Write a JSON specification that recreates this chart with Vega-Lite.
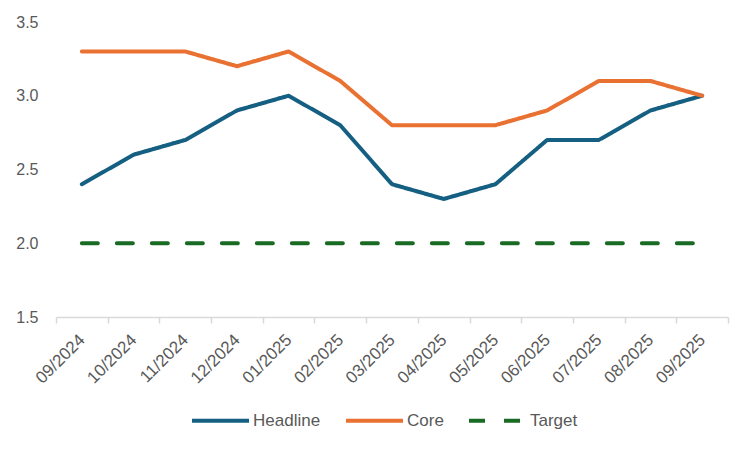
{
  "$schema": "https://vega.github.io/schema/vega-lite/v6.json",
  "width": 672,
  "height": 295,
  "autosize": {"type": "none"},
  "padding": {"left": 56, "top": 22, "right": 24, "bottom": 135},
  "background": "white",
  "config": {
    "view": {"stroke": null},
    "font": "Liberation Sans",
    "legend": {
      "orient": "none",
      "legendX": 134,
      "legendY": 368,
      "direction": "horizontal",
      "title": null,
      "symbolType": "stroke",
      "symbolSize": 3249,
      "symbolStrokeWidth": 4,
      "labelFontSize": 17,
      "labelColor": "#595959",
      "labelOffset": 2,
      "columnPadding": 17
    }
  },
  "data": {
    "values": [
      {"month": "09/2024", "series": "Headline", "value": 2.4},
      {"month": "10/2024", "series": "Headline", "value": 2.6},
      {"month": "11/2024", "series": "Headline", "value": 2.7},
      {"month": "12/2024", "series": "Headline", "value": 2.9},
      {"month": "01/2025", "series": "Headline", "value": 3.0},
      {"month": "02/2025", "series": "Headline", "value": 2.8},
      {"month": "03/2025", "series": "Headline", "value": 2.4},
      {"month": "04/2025", "series": "Headline", "value": 2.3},
      {"month": "05/2025", "series": "Headline", "value": 2.4},
      {"month": "06/2025", "series": "Headline", "value": 2.7},
      {"month": "07/2025", "series": "Headline", "value": 2.7},
      {"month": "08/2025", "series": "Headline", "value": 2.9},
      {"month": "09/2025", "series": "Headline", "value": 3.0},
      {"month": "09/2024", "series": "Core", "value": 3.3},
      {"month": "10/2024", "series": "Core", "value": 3.3},
      {"month": "11/2024", "series": "Core", "value": 3.3},
      {"month": "12/2024", "series": "Core", "value": 3.2},
      {"month": "01/2025", "series": "Core", "value": 3.3},
      {"month": "02/2025", "series": "Core", "value": 3.1},
      {"month": "03/2025", "series": "Core", "value": 2.8},
      {"month": "04/2025", "series": "Core", "value": 2.8},
      {"month": "05/2025", "series": "Core", "value": 2.8},
      {"month": "06/2025", "series": "Core", "value": 2.9},
      {"month": "07/2025", "series": "Core", "value": 3.1},
      {"month": "08/2025", "series": "Core", "value": 3.1},
      {"month": "09/2025", "series": "Core", "value": 3.0},
      {"month": "09/2024", "series": "Target", "value": 2.0},
      {"month": "10/2024", "series": "Target", "value": 2.0},
      {"month": "11/2024", "series": "Target", "value": 2.0},
      {"month": "12/2024", "series": "Target", "value": 2.0},
      {"month": "01/2025", "series": "Target", "value": 2.0},
      {"month": "02/2025", "series": "Target", "value": 2.0},
      {"month": "03/2025", "series": "Target", "value": 2.0},
      {"month": "04/2025", "series": "Target", "value": 2.0},
      {"month": "05/2025", "series": "Target", "value": 2.0},
      {"month": "06/2025", "series": "Target", "value": 2.0},
      {"month": "07/2025", "series": "Target", "value": 2.0},
      {"month": "08/2025", "series": "Target", "value": 2.0},
      {"month": "09/2025", "series": "Target", "value": 2.0}
    ]
  },
  "mark": {"type": "line", "strokeWidth": 4, "strokeCap": "round", "strokeJoin": "round"},
  "encoding": {
    "x": {
      "field": "month",
      "type": "ordinal",
      "sort": null,
      "bandPosition": 0.5,
      "scale": {"type": "band", "paddingInner": 0, "paddingOuter": 0},
      "axis": {
        "title": null,
        "tickBand": "extent",
        "labelAngle": -45,
        "labelAlign": "right",
        "labelBaseline": "middle",
        "labelPadding": 14,
        "domainColor": "#D9D9D9",
        "domainWidth": 1.5,
        "tickColor": "#D9D9D9",
        "tickWidth": 1.5,
        "tickSize": 6,
        "labelColor": "#595959",
        "labelFontSize": 17,
        "grid": false
      }
    },
    "y": {
      "field": "value",
      "type": "quantitative",
      "scale": {"domain": [1.5, 3.5], "nice": false, "zero": false},
      "axis": {
        "title": null,
        "values": [1.5, 2, 2.5, 3, 3.5],
        "format": ".1f",
        "domain": false,
        "ticks": false,
        "grid": false,
        "labelPadding": 18,
        "labelColor": "#595959",
        "labelFontSize": 16
      }
    },
    "color": {
      "field": "series",
      "type": "nominal",
      "scale": {"domain": ["Headline", "Core", "Target"], "range": ["#156082", "#E97132", "#196B24"]}
    },
    "strokeDash": {
      "field": "series",
      "type": "nominal",
      "scale": {"domain": ["Headline", "Core", "Target"], "range": [[1, 0], [1, 0], [16, 19]]}
    }
  }
}
